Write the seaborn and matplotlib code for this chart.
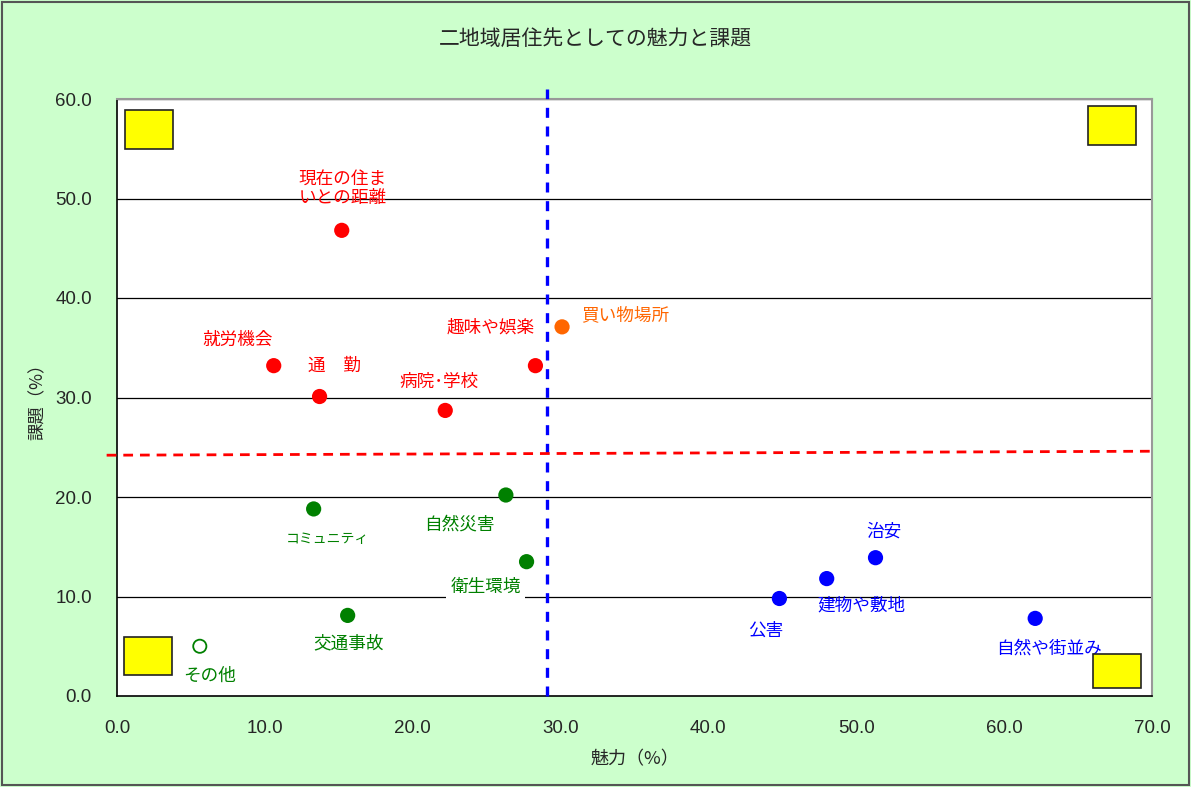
import matplotlib
matplotlib.use("Agg")
import matplotlib.pyplot as plt
from matplotlib.patches import Rectangle
import seaborn as sns
import pandas as pd

# Survey items: attraction (魅力) vs. issue (課題), in percent
items = ["現在の住ま\nいとの距離", "就労機会", "通　勤", "病院･学校", "趣味や娯楽", "買い物場所",
         "コミュニティ", "自然災害", "衛生環境", "交通事故", "その他",
         "公害", "建物や敷地", "治安", "自然や街並み"]
attraction = [15.2, 10.6, 13.7, 22.2, 28.3, 30.1,
              13.3, 26.3, 27.7, 15.6, 5.6,
              44.8, 48.0, 51.3, 62.1]
issue = [46.8, 33.2, 30.1, 28.7, 33.2, 37.1,
         18.8, 20.2, 13.5, 8.1, 5.0,
         9.8, 11.8, 13.9, 7.8]
group = ["課題", "課題", "課題", "課題", "課題", "買い物",
         "中間", "中間", "中間", "中間", "その他",
         "魅力", "魅力", "魅力", "魅力"]

# Reference lines (averages)
avg_attraction = 29.1
avg_issue_left, avg_issue_right = 24.2, 24.6

palette = {"課題": "#FF0000", "買い物": "#FF6600", "中間": "#008000",
           "その他": "#008000", "魅力": "#0000FF"}

# Label offsets from each marker, in pixels
label_offsets = [(1, 42), (-36, 26), (15, 31), (-6, 29), (-45, 38), (63, 12),
                 (14, -30), (-46, -30), (-41, -25), (1, -28), (10, -30),
                 (-14, -32), (35, -27), (8, 26), (14, -30)]

df = pd.DataFrame({"item": items, "attraction": attraction, "issue": issue, "group": group})

sns.set_style("white")
plt.rcParams["font.family"] = ["Noto Sans CJK JP", "DejaVu Sans"]

fig = plt.figure(figsize=(11.91, 7.87), dpi=100, facecolor="#CCFFCC")
ax = fig.add_axes([117 / 1191, 1 - 696 / 787, (1152 - 117) / 1191, (696 - 99) / 787])
ax.set_facecolor("white")

ax.set_xlim(0, 70)
ax.set_ylim(0, 60)
ax.set_xticks(range(0, 71, 10))
ax.set_yticks(range(0, 61, 10))
ax.set_xticklabels([f"{v:.1f}" for v in range(0, 71, 10)], family="Liberation Sans", fontsize=13.5)
ax.set_yticklabels([f"{v:.1f}" for v in range(0, 61, 10)], family="Liberation Sans", fontsize=13.5)
ax.tick_params(axis="x", direction="in", length=7, width=1, color="#333333", pad=17)
ax.tick_params(axis="y", direction="in", length=5, width=1, color="#333333", pad=18)
for y in range(10, 61, 10):
    ax.axhline(y, color="black", lw=0.9, zorder=1)

for side in ["left", "bottom"]:
    ax.spines[side].set_color("black")
    ax.spines[side].set_linewidth(1.2)
for side in ["top", "right"]:
    ax.spines[side].set_color("#999999")
    ax.spines[side].set_linewidth(1.5)

filled = df[df["group"] != "その他"]
sns.scatterplot(data=filled, x="attraction", y="issue", hue="group", palette=palette,
                s=120, edgecolor="none", legend=False, ax=ax, zorder=4)
other = df[df["group"] == "その他"]
sns.scatterplot(data=other, x="attraction", y="issue", s=90, facecolor="none",
                edgecolor="#008000", linewidth=1.3, legend=False, ax=ax, zorder=4)

for name, x, y, g, (dx, dy) in zip(items, attraction, issue, group, label_offsets):
    kw = {}
    if name == "衛生環境":
        kw["bbox"] = dict(facecolor="white", edgecolor="none", pad=3)
    fs = 10 if name == "コミュニティ" else 12.7
    ax.annotate(name, (x, y), xytext=(dx, dy), textcoords="offset pixels",
                ha="center", va="center", color=palette[g], fontsize=fs,
                linespacing=1.15, zorder=5, **kw)

# Average lines
ax.plot([avg_attraction, avg_attraction], [0, 61], ls=(0, (3, 2.6)), color="#0000FF",
        lw=2.4, clip_on=False, zorder=3)
ax.plot([-0.7, 70], [avg_issue_left, avg_issue_right], ls=(0, (3.5, 2.5)), color="#FF0000",
        lw=2.0, clip_on=False, zorder=3)

# Quadrant marker boxes
for (x0, y0, h) in [(0.54, 55.0, 3.85), (65.7, 55.4, 3.85), (0.47, 2.1, 3.8), (66.0, 0.8, 3.45)]:
    ax.add_patch(Rectangle((x0, y0), 3.25, h, facecolor="#FFFF00", edgecolor="#222222",
                           lw=1.2, zorder=6, clip_on=False))

ax.set_xlabel("魅力（%）", fontsize=13, labelpad=10)
ax.set_ylabel("課題（%）", fontsize=12.5, labelpad=6)
fig.text(0.5, 1 - 39 / 787, "二地域居住先としての魅力と課題", ha="center", va="center", fontsize=15)

fig.add_artist(Rectangle((0.002, 0.002), 0.996, 0.996, transform=fig.transFigure,
                         facecolor="none", edgecolor="#555555", lw=1.5))

fig.savefig("out.png", dpi=100, facecolor=fig.get_facecolor())
